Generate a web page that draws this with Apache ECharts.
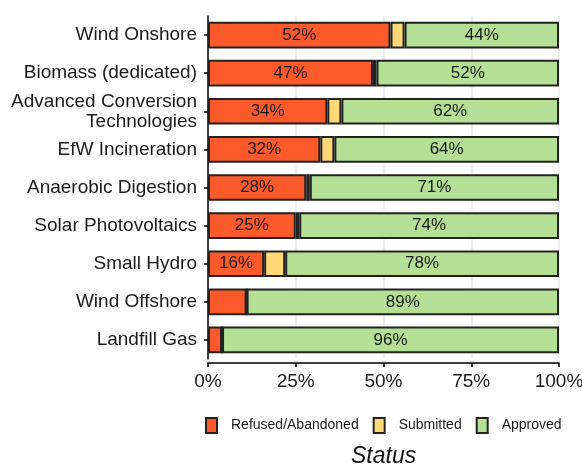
<!DOCTYPE html>
<html><head><meta charset="utf-8">
<script src="https://cdn.jsdelivr.net/npm/echarts@6/dist/echarts.min.js"></script>
<style>html,body{margin:0;padding:0;background:#fff}#c{width:582px;height:468px}</style>
</head><body><div id="c"></div>
<script>
const categories = ["Wind Onshore","Biomass (dedicated)","Advanced Conversion\nTechnologies","EfW Incineration","Anaerobic Digestion","Solar Photovoltaics","Small Hydro","Wind Offshore","Landfill Gas"];
const refused   = [52, 47, 34, 32, 28, 25, 16, 11, 4];
const submitted = [4, 1, 4, 4, 1, 1, 6, 0, 0];
const approved  = [44, 52, 62, 64, 71, 74, 78, 89, 96];
const xTicks = [0, 25, 50, 75, 100];
const seriesNames = ["Refused/Abandoned","Submitted","Approved"];
const colors = ["#FC5A2B","#FED976","#B4DF94"];

const FONT = "Liberation Sans, Arial, sans-serif";
const chart = echarts.init(document.getElementById('c'), null, {renderer:'canvas'});
function mk(name, data, color){
  return {
    name, type:'bar', stack:'s', data, barWidth:'70%',
    itemStyle:{color, borderColor:'#222', borderWidth:2},
    label:{show:true, position:'inside', fontFamily:FONT, fontSize:17, color:'#1a1a1a',
      formatter:p=> p.value>=15 ? p.value+'%' : ''},
    emphasis:{disabled:true}
  };
}
chart.setOption({
  animation:false,
  textStyle:{fontFamily:FONT},
  grid:{left:208, right:23, top:16, bottom:109, containLabel:false, outerBoundsMode:'none'},
  xAxis:{type:'value', min:0, max:100, interval:25, offset:4,
    axisLine:{show:true, lineStyle:{color:'#000', width:1.5}},
    axisTick:{show:true, length:4, lineStyle:{color:'#000', width:1.5}},
    axisLabel:{fontSize:19, color:'#1a1a1a', margin:9, fontFamily:FONT, formatter:v=>v+'%'},
    splitLine:{show:true, lineStyle:{color:'#ebebeb', width:1.5}}
  },
  yAxis:{type:'category', data:categories, inverse:true,
    axisLine:{show:true, lineStyle:{color:'#000', width:1.5}},
    axisTick:{show:true, length:4, alignWithLabel:true, lineStyle:{color:'#000', width:1.5}},
    axisLabel:{fontSize:19, color:'#1a1a1a', margin:11, fontFamily:FONT, lineHeight:20, align:'right'},
    splitLine:{show:false}
  },
  legend:{data:seriesNames, left:205, top:417, padding:0, itemWidth:11, itemHeight:15, itemGap:14,
    icon:'rect',
    itemStyle:{borderColor:'#222', borderWidth:2},
    textStyle:{fontSize:14, color:'#1a1a1a', fontFamily:FONT, padding:[0,0,0,9]}
  },
  graphic:[{type:'text', left:351, top:445,
    style:{text:'Status', font:'italic 23px "Liberation Sans", Arial, sans-serif', fill:'#111'}}],
  series:[mk(seriesNames[0], refused, colors[0]), mk(seriesNames[1], submitted, colors[1]), mk(seriesNames[2], approved, colors[2])]
});
</script></body></html>
